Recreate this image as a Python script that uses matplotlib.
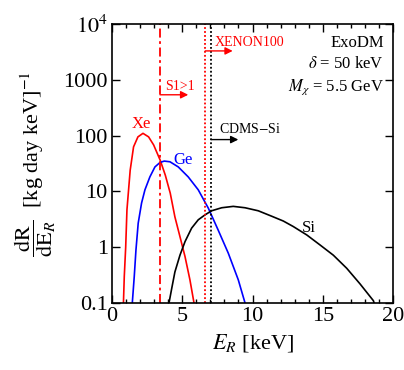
import matplotlib
import numpy as np

matplotlib.use('Agg')

import matplotlib.pyplot as plt

plt.rcParams['font.family'] = ['Liberation Serif', 'DejaVu Serif']
plt.rcParams['mathtext.fontset'] = 'stix'

# spectra: E_R [keV] and dR/dE_R
xe_e = [0.82, 0.88, 0.98, 1.07, 1.30, 1.54, 1.85, 2.21, 2.61, 2.97, 3.44, 3.80, 4.15, 4.48, 4.84, 5.20, 5.55, 5.84]
xe_r = [0.1, 0.30, 1.0, 4.7, 24, 63, 95, 110, 95, 68, 36, 19.5, 9.3, 3.5, 1.55, 0.68, 0.26, 0.1]

ge_e = [1.45, 1.59, 1.71, 1.87, 2.11, 2.35, 2.70, 3.06, 3.42, 3.72, 4.13, 4.72, 5.43, 6.14, 6.86, 7.57, 8.28, 8.99, 9.47]
ge_r = [0.1, 0.30, 0.89, 2.7, 6.2, 10.7, 18.2, 27.5, 33, 35, 34, 27.5, 18.2, 10.7, 5.0, 2.0, 0.78, 0.26, 0.1]

si_e = [4.06, 4.25, 4.48, 4.84, 5.20, 5.67, 6.14, 6.62, 7.09, 7.81, 8.63, 9.47, 10.41, 11.36, 12.19,
        12.90, 13.86, 14.80, 15.75, 16.70, 17.65, 18.60, 18.65]
si_r = [0.1, 0.18, 0.36, 0.72, 1.26, 2.2, 3.1, 3.8, 4.5, 5.1, 5.4, 5.1, 4.5, 3.6, 2.95,
        2.35, 1.66, 1.10, 0.72, 0.42, 0.22, 0.11, 0.1]

# thresholds
s1_thr = 3.42
xenon_thr = 6.64
cdms_thr = 7.05

y_ticks = [0.1, 1, 10, 100, 1000, 1e4]
y_labels = ['0.1', '1', '10', '100', '1000', r'$10^4$']


def plot_rates():
    fig = plt.figure(figsize=(4.04, 3.70), dpi=100)
    ax = fig.add_axes([0.277, 0.181, 0.696, 0.754])

    ax.plot(xe_e, xe_r, color='red', lw=1.2)
    ax.plot(ge_e, ge_r, color='blue', lw=1.2)
    ax.plot(si_e, si_r, color='black', lw=1.2)

    ax.axvline(s1_thr, color='red', lw=1.3, ls=(0, (5, 2, 1.5, 2)))
    ax.axvline(xenon_thr, color='red', lw=1.3, ls=(0, (1, 1.2)))
    ax.axvline(cdms_thr, color='black', lw=1.3, ls=(0, (1, 1.2)))

    # arrows
    arr = dict(arrowstyle='-|>', lw=1.0, mutation_scale=11, shrinkA=0, shrinkB=0)
    ax.annotate('', xy=(5.43, 540), xytext=(s1_thr, 540),
                arrowprops=dict(arr, color='red'))
    ax.text(3.77, 660, 'S1>1', color='red', fontsize=10, va='baseline')
    ax.annotate('', xy=(8.59, 3300), xytext=(xenon_thr, 3300),
                arrowprops=dict(arr, color='red'))
    ax.text(7.33, 4070, 'XENON100', color='red', fontsize=10, va='baseline')
    ax.annotate('', xy=(8.99, 85), xytext=(cdms_thr, 85),
                arrowprops=dict(arr, color='black'))
    ax.text(7.64, 110, 'CDMS$-$Si', color='black', fontsize=10, va='baseline')

    ax.text(2.09, 165, 'Xe', color='red', fontsize=12, ha='center', va='center')
    ax.text(5.07, 37, 'Ge', color='blue', fontsize=12, ha='center', va='center')
    ax.text(14.0, 2.2, 'Si', color='black', fontsize=12, ha='center', va='center')

    ax.text(0.968, 0.916, 'ExoDM', transform=ax.transAxes, ha='right', va='baseline', fontsize=12)
    ax.text(0.968, 0.841, r'$\delta$ = 50 keV', transform=ax.transAxes, ha='right', va='baseline', fontsize=12)
    ax.text(0.968, 0.763, r'$M_\chi$ = 5.5 GeV', transform=ax.transAxes, ha='right', va='baseline', fontsize=12)

    ax.set_yscale('log')
    ax.set_xlim(0, 20)
    ax.set_ylim(0.1, 1e4)
    ax.set_yticks(y_ticks)
    ax.set_yticklabels(y_labels)
    ax.yaxis.set_minor_locator(matplotlib.ticker.NullLocator())
    ax.set_xticks([0, 5, 10, 15, 20])
    ax.xaxis.set_minor_locator(matplotlib.ticker.MultipleLocator(1))
    ax.tick_params(which='both', direction='in', top=True, right=True, labelsize=16, width=1.0)
    ax.tick_params(which='major', length=6, pad=3)
    ax.tick_params(which='minor', length=3)
    for s in ax.spines.values():
        s.set_linewidth(1.2)

    ax.set_xlabel(r'$E_R$ [keV]', fontsize=16)
    ax.set_ylabel(r'$\dfrac{\mathrm{dR}}{\mathrm{dE}_R}$  [kg day keV]$^{-1}$', fontsize=16)

    plt.savefig('out.png', dpi=100)


if __name__ == '__main__':
    plot_rates()
